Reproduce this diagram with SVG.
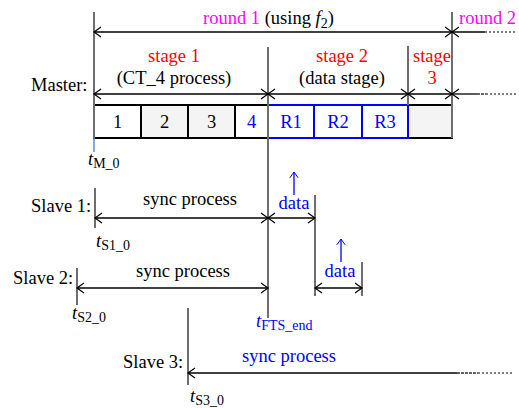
<svg xmlns="http://www.w3.org/2000/svg" width="519" height="408" viewBox="0 0 519 408">
  <style>
    text { font-family: "Liberation Serif", "Times New Roman", serif; font-size: 18.5px; fill: #000; }
    .mag { fill: #ff00ff; }
    .red { fill: #ff0000; }
    .blue { fill: #0000ff; }
    .mid { text-anchor: middle; }
    .sub { font-size: 14px; }
    .it { font-style: italic; }
    .vline { stroke: #6e6e6e; stroke-width: 2; fill: none; }
    .hline { stroke: #000; stroke-width: 1.3; fill: none; }
    .dots { stroke: #555; stroke-width: 1.3; stroke-dasharray: 2 2; fill: none; }
    .dash { stroke: #333; stroke-width: 1.3; stroke-dasharray: 3 1; fill: none; }
    .cell { fill: #fff; stroke: #000; stroke-width: 2; }
    .cellg { fill: #f4f4f4; stroke: #000; stroke-width: 2; }
    .cellb { fill: #fff; stroke: #0000ff; stroke-width: 2; }
    .arr { marker-start: url(#head); marker-end: url(#head); }
    .arrs { marker-start: url(#head); }
  </style>
  <defs>
    <marker id="head" markerUnits="userSpaceOnUse" markerWidth="10" markerHeight="12" refX="0" refY="0" viewBox="-8 -6 9 12" orient="auto-start-reverse" overflow="visible">
      <path d="M-7,-5 L0,0 L-7,5" fill="none" stroke="#000" stroke-width="1.2"/>
    </marker>
    <marker id="headb" markerUnits="userSpaceOnUse" markerWidth="12" markerHeight="10" refX="0" refY="0" viewBox="-8 -6 9 12" orient="auto" overflow="visible">
      <path d="M-7,-5 L0,0 L-7,5" fill="none" stroke="#0000ff" stroke-width="1.2"/>
    </marker>
  </defs>

  <!-- round header -->
  <g id="round">
    <text x="203" y="24"><tspan class="mag">round 1</tspan> (using <tspan class="it">f</tspan><tspan class="sub" dy="4">2</tspan><tspan dy="-4">)</tspan></text>
    <text x="459" y="24" class="mag">round 2</text>
  </g>

  <!-- stage headings -->
  <g id="stage1">
    <text x="174" y="62" class="red mid">stage 1</text>
    <text x="174" y="84" class="mid">(CT_4 process)</text>
  </g>
  <g id="stage2">
    <text x="342" y="62" class="red mid">stage 2</text>
    <text x="342" y="84" class="mid">(data stage)</text>
  </g>
  <g id="stage3">
    <text x="432" y="62" class="red mid">stage</text>
    <text x="432" y="84" class="red mid">3</text>
  </g>

  <!-- master timeline -->
  <g id="master">
    <text x="31" y="91">Master:</text>
    <rect class="cell" x="94" y="105" width="47" height="33"/>
    <rect class="cellg" x="141" y="105" width="47" height="33"/>
    <rect class="cellg" x="188" y="105" width="47" height="33"/>
    <rect class="cell" x="235" y="105" width="33" height="33"/>
    <rect class="cellg" x="408" y="105" width="44" height="33"/>
    <rect class="cellb" x="268" y="105" width="46" height="33"/>
    <rect class="cellb" x="314" y="105" width="48" height="33"/>
    <rect class="cellb" x="362" y="105" width="46" height="33"/>
    <text x="117.5" y="128" class="mid">1</text>
    <text x="164.5" y="128" class="mid">2</text>
    <text x="211.5" y="128" class="mid">3</text>
    <text x="251.5" y="128" class="mid blue">4</text>
    <text x="291" y="128" class="mid blue">R1</text>
    <text x="338" y="128" class="mid blue">R2</text>
    <text x="385" y="128" class="mid blue">R3</text>
    <text x="88" y="165" class="it">t<tspan class="sub" font-style="normal" dy="3">M_0</tspan></text>
  </g>

  <!-- slave 1 -->
  <g id="slave1">
    <text x="31" y="212">Slave 1:</text>
    <text x="190" y="205" class="mid">sync process</text>
    <text x="294" y="209" class="mid blue">data</text>
    <text x="96" y="247" class="it">t<tspan class="sub" font-style="normal" dy="3">S1_0</tspan></text>
  </g>

  <!-- slave 2 -->
  <g id="slave2">
    <text x="13" y="284">Slave 2:</text>
    <text x="183" y="277" class="mid">sync process</text>
    <text x="340" y="277" class="mid blue">data</text>
    <text x="72" y="319" class="it">t<tspan class="sub" font-style="normal" dy="3">S2_0</tspan></text>
  </g>

  <!-- frame sync end marker -->
  <g id="fts-end">
    <text x="256" y="327" class="it blue">t<tspan class="sub" font-style="normal" dy="3">FTS_end</tspan></text>
  </g>

  <!-- slave 3 -->
  <g id="slave3">
    <text x="123" y="368">Slave 3:</text>
    <text x="289" y="362" class="mid blue">sync process</text>
    <text x="190" y="402" class="it">t<tspan class="sub" font-style="normal" dy="3">S3_0</tspan></text>
  </g>

  <g id="connectors">
    <!-- vertical boundaries -->
    <line class="vline" x1="94" y1="12" x2="94" y2="138"/>
    <line x1="94" y1="138" x2="94" y2="152" stroke="#5b8fd6" stroke-width="1.5"/>
    <line class="vline" x1="268" y1="47" x2="268" y2="318"/>
    <line class="vline" x1="408" y1="46" x2="408" y2="105"/>
    <line class="vline" x1="452" y1="12" x2="452" y2="138"/>
    <line class="vline" x1="95" y1="188" x2="95" y2="228" stroke="#444" stroke-width="1.5"/>
    <line class="vline" x1="315" y1="195" x2="315" y2="296"/>
    <line class="vline" x1="362" y1="262" x2="362" y2="296"/>
    <line class="vline" x1="77" y1="268" x2="77" y2="305" stroke="#333" stroke-width="1.5"/>
    <line class="vline" x1="188" y1="308" x2="188" y2="385" stroke="#444" stroke-width="1.5"/>

    <!-- round spans -->
    <line class="hline arr" x1="94" y1="32" x2="452" y2="32"/>
    <line class="hline arrs" x1="452" y1="32" x2="485" y2="32"/>
    <line class="dots" x1="485" y1="32" x2="515" y2="32"/>

    <!-- stage spans -->
    <line class="hline arr" x1="94" y1="94" x2="268" y2="94"/>
    <line class="hline arr" x1="268" y1="94" x2="408" y2="94"/>
    <line class="hline arr" x1="408" y1="94" x2="452" y2="94"/>
    <line class="hline arrs" x1="452" y1="94" x2="477" y2="94"/>
    <line class="dash" x1="477" y1="94" x2="486" y2="94"/>
    <line class="dots" x1="486" y1="94" x2="517" y2="94"/>

    <!-- slave 1 spans -->
    <line class="hline arr" x1="95" y1="218" x2="268" y2="218"/>
    <line class="hline arr" x1="268" y1="218" x2="315" y2="218"/>
    <line x1="294" y1="195" x2="294" y2="172" stroke="#0000ff" stroke-width="1.3" marker-end="url(#headb)"/>

    <!-- slave 2 spans -->
    <line class="hline arr" x1="77" y1="288" x2="268" y2="288"/>
    <line class="hline arr" x1="315" y1="288" x2="362" y2="288"/>
    <line x1="341" y1="262" x2="341" y2="239" stroke="#0000ff" stroke-width="1.3" marker-end="url(#headb)"/>

    <!-- slave 3 span -->
    <line class="hline arrs" x1="188" y1="373" x2="457" y2="373"/>
    <line class="dash" x1="457" y1="373" x2="478" y2="373"/>
    <line class="dots" x1="478" y1="373" x2="513" y2="373"/>
  </g>
</svg>
